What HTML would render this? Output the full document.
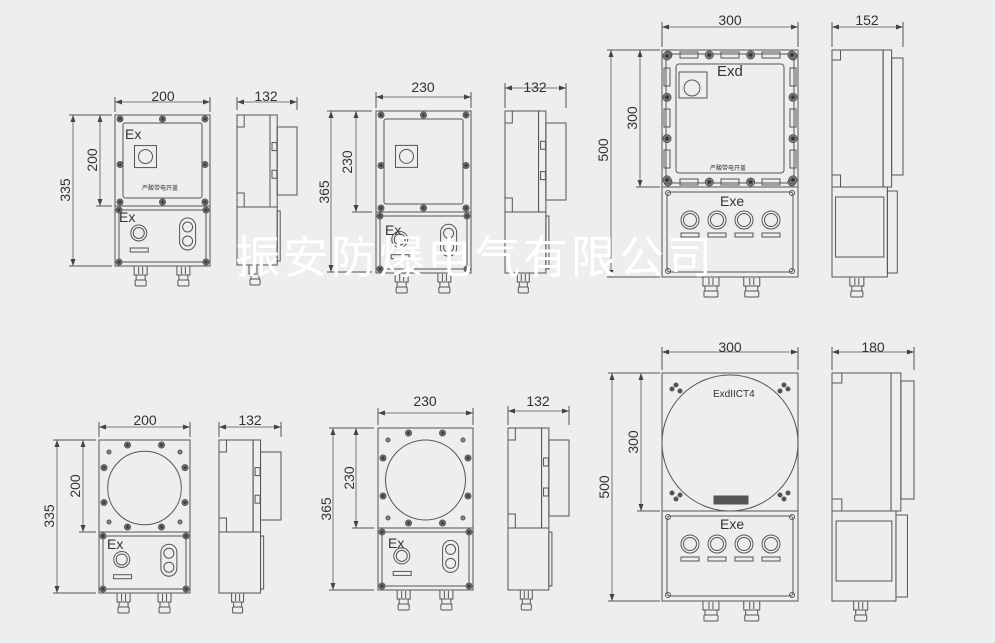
<!DOCTYPE html>
<html><head><meta charset="utf-8"><style>
html,body{margin:0;padding:0;background:#eceef0;}
svg{display:block}
text{font-family:"Liberation Sans","Noto Sans CJK SC",sans-serif;fill:#333}
</style></head><body>
<svg id="s" width="995" height="643" viewBox="0 0 995 643" xmlns="http://www.w3.org/2000/svg">
<rect width="995" height="643" fill="#eceef0"/>
<g id="g" fill="none" stroke="#555" stroke-width="1"></g>
<g font-size="14">
<text x="163" y="101" text-anchor="middle">200</text>
<text x="266" y="101" text-anchor="middle">132</text>
<text x="423" y="92" text-anchor="middle">230</text>
<text x="535" y="92" text-anchor="middle">132</text>
<text x="730" y="25" text-anchor="middle">300</text>
<text x="867" y="25" text-anchor="middle">152</text>
<text x="145" y="425" text-anchor="middle">200</text>
<text x="250" y="425" text-anchor="middle">132</text>
<text x="425" y="406" text-anchor="middle">230</text>
<text x="538" y="406" text-anchor="middle">132</text>
<text x="730" y="352" text-anchor="middle">300</text>
<text x="873" y="352" text-anchor="middle">180</text>
<text transform="translate(97,160) rotate(-90)" text-anchor="middle">200</text>
<text transform="translate(70,190) rotate(-90)" text-anchor="middle">335</text>
<text transform="translate(352,162) rotate(-90)" text-anchor="middle">230</text>
<text transform="translate(329,192) rotate(-90)" text-anchor="middle">365</text>
<text transform="translate(637,118) rotate(-90)" text-anchor="middle">300</text>
<text transform="translate(608,150) rotate(-90)" text-anchor="middle">500</text>
<text transform="translate(80,486) rotate(-90)" text-anchor="middle">200</text>
<text transform="translate(54,516) rotate(-90)" text-anchor="middle">335</text>
<text transform="translate(354,478) rotate(-90)" text-anchor="middle">230</text>
<text transform="translate(331,509) rotate(-90)" text-anchor="middle">365</text>
<text transform="translate(638,442) rotate(-90)" text-anchor="middle">300</text>
<text transform="translate(609,487) rotate(-90)" text-anchor="middle">500</text>
</g>
<g font-size="14">
<text x="125" y="139">Ex</text>
<text x="119" y="222">Ex</text>
<text x="385" y="235">Ex</text>
<text x="717" y="76" font-size="15">Exd</text>
<text x="720" y="206">Exe</text>
<text x="107" y="549">Ex</text>
<text x="388" y="548">Ex</text>
<text x="720" y="529">Exe</text>
<text x="713" y="397" font-size="10">ExdIICT4</text>
</g>
<g font-size="6">
<text x="142" y="190">严酸带电开盖</text>
<text x="710" y="170">严酸带电开盖</text>
</g>
<text x="235" y="273" font-size="45" style="fill:#fff" letter-spacing="3">振安防爆电气有限公司</text>
</svg>
<script>
var g=document.getElementById('g'),NS='http://www.w3.org/2000/svg';
function el(t,a){var e=document.createElementNS(NS,t);for(var k in a)e.setAttribute(k,a[k]);g.appendChild(e);return e;}
function L(x1,y1,x2,y2,w){el('line',{x1:x1,y1:y1,x2:x2,y2:y2,'stroke-width':w||1});}
function R(x,y,w,h,r,f){el('rect',{x:x,y:y,width:w,height:h,rx:r||0,fill:f||'none'});}
function C(x,y,r,f){el('circle',{cx:x,cy:y,r:r,fill:f||'none'});}
function P(d,f){el('path',{d:d,fill:f||'none',stroke:f?'none':'#555'});}
function hd(x1,x2,y,oy){L(x1,y-5,x1,oy);L(x2,y-5,x2,oy);L(x1,y,x2,y,0.8);P('M'+x1+' '+y+'l7 -2.5v5z','#444');P('M'+x2+' '+y+'l-7 -2.5v5z','#444');}
function vd(y1,y2,x,ox){L(x-4,y1,ox,y1);L(x-4,y2,ox,y2);L(x,y1,x,y2,0.8);P('M'+x+' '+y1+'l-2.5 7h5z','#444');P('M'+x+' '+y2+'l-2.5 -7h5z','#444');}
function bolt(x,y,r){C(x,y,r||3,'#888');C(x,y,(r||3)*0.5,'#333');}
function gland(x,y,w){w=w||13;R(x-w/2,y,w,9);R(x-w/2+2,y+9,w-4,5);R(x-w/2+1,y+14,w-2,6,1);L(x-2,y+1,x-2,y+8);L(x+2,y+1,x+2,y+8);}
function knob(x,y,r){C(x,y,r);C(x,y,r-2.5);}
function smallModule(x,y,w,hu,hl,circ,sw){
 R(x,y,w,hu+hl);L(x,y+hu,x+w,y+hu);
 if(!circ){R(x+8,y+8,w-16,hu-16,2);[[x+5,y+4],[x+w/2,y+4],[x+w-5,y+4],[x+5,y+hu/2+4],[x+w-5,y+hu/2+4],[x+5,y+hu-4],[x+w/2,y+hu-4],[x+w-5,y+hu-4]].forEach(function(p){bolt(p[0],p[1])});
  R(x+w/2-28,y+hu*0.38-4,22,22);C(x+w/2-17,y+hu*0.38+7,7);}
 else{C(x+w/2,y+hu/2+2,hu*0.4);[[x+10,y+12],[x+w-10,y+12],[x+10,y+hu-10],[x+w-10,y+hu-10]].forEach(function(p){C(p[0],p[1],2,'#888')});
  [[x+w/2-17,y+5],[x+w/2+17,y+5],[x+5,y+hu*0.3],[x+w-5,y+hu*0.3],[x+5,y+hu*0.68],[x+w-5,y+hu*0.68],[x+w/2-17,y+hu-5],[x+w/2+17,y+hu-5]].forEach(function(p){bolt(p[0],p[1])});}
 R(x+4,y+hu+4,w-8,hl-8,2);bolt(x+4,y+hu+4);bolt(x+w-4,y+hu+4);bolt(x+4,y+hu+hl-4);bolt(x+w-4,y+hu+hl-4);
 knob(x+w*0.25,y+hu+hl*0.45,8);R(x+w*0.16,y+hu+hl*0.7,18,4);
 R(x+w*0.68,y+hu+hl*0.2,16,32,8);C(x+w*0.68+8,y+hu+hl*0.2+9,5);C(x+w*0.68+8,y+hu+hl*0.2+23,5);
 gland(x+w*0.27,y+hu+hl);gland(x+w*0.72,y+hu+hl);
}
function side(x,y,w,hu,hl,ww){
 R(x,y,w*0.55,hu);R(x,y,w*0.12,12);R(x,y+hu-14,w*0.12,14);
 R(x+w*0.55,y,w*0.12,hu);R(x+w*0.67,y+12,w*0.33,hu-24);
 R(x+w*0.55+2,y+hu*0.3,w*0.08,8);R(x+w*0.55+2,y+hu*0.6,w*0.08,8);
 R(x,y+hu,w*0.67,hl);R(x+w*0.67,y+hu+4,w*0.05,hl-8);
 gland(x+w*0.3,y+hu+hl,12);
}
smallModule(115,115,95,91,60,false);hd(115,210,102,112);vd(115,206,100,112);vd(115,266,73,112);
side(237,115,60,92,58);hd(237,297,102,110);
smallModule(376,111,95,101,61,false);hd(376,471,97,108);vd(111,212,356,372);vd(111,272,331,372);
side(505,111,61,101,61);hd(505,566,88,108);
smallModule(99,440,91,92,61,true);hd(99,190,427,437);vd(440,532,83,96);vd(440,593,57,96);
side(219,440,62,92,61);hd(219,281,427,437);
smallModule(378,428,95,100,62,true);hd(378,473,413,425);vd(428,528,356,374);vd(428,590,333,374);
side(508,428,61,100,62);hd(508,569,411,425);
function lower(x,y,w,h){R(x,y,w,h);R(x+5,y+5,w-10,h-10,3);C(x+6,y+6,2.5);C(x+w-6,y+6,2.5);C(x+6,y+h-6,2.5);C(x+w-6,y+h-6,2.5);
 [0,1,2,3].forEach(function(i){var cx=x+28+i*27;knob(cx,y+33,9);R(cx-9,y+46,18,4);});
 gland(x+w*0.36,y+h,16);gland(x+w*0.66,y+h,16);}
function bigSide(x,y,w,hu,hl){
 R(x,y,w*0.72,hu);R(x,y,w*0.12,10);R(x,y+hu-12,w*0.12,12);R(x+w*0.72,y,w*0.12,hu);R(x+w*0.84,y+8,w*0.16,hu-20);
 R(x,y+hu,w*0.78,hl);R(x+w*0.05,y+hu+10,w*0.68,hl-30);R(x+w*0.78,y+hu+4,w*0.14,hl-8);
 gland(x+w*0.35,y+hu+hl,14);}
var X=662,Y=50;R(X,Y,136,137);R(X+4,Y+4,128,129);R(X+14,Y+14,108,109,3);
[0,1,2,3].forEach(function(i){var p=X+6+i*41.3;bolt(p,Y+5,4);bolt(p,Y+132,4);bolt(X+5,Y+6+i*41.3,4);bolt(X+131,Y+6+i*41.3,4);});
for(var i=0;i<3;i++){R(X+18+i*41,Y+2,18,6);R(X+18+i*41,Y+129,18,6);R(X+2,Y+18+i*41,6,18);R(X+128,Y+18+i*41,6,18);}
R(X+17,Y+22,28,26);C(X+30,Y+38,8);
lower(662,187,136,90);hd(662,798,27,47);vd(50,187,640,660);vd(50,277,611,660);
bigSide(832,50,71,137,90);hd(832,903,27,47);
X=662;Y=373;R(X,Y,136,138);C(X+68,Y+70,68);
[[10,16],[14,12],[18,18],[126,16],[122,12],[118,18],[10,120],[14,126],[18,122],[126,120],[122,126],[118,122]].forEach(function(p){bolt(X+p[0],Y+p[1],2);});
R(X+52,Y+123,34,8,0,'#555');
lower(662,511,136,90);hd(662,798,352,370);vd(373,511,641,660);vd(373,601,612,660);
bigSide(832,373,82,138,90);hd(832,914,352,370);
</script>
</body></html>
